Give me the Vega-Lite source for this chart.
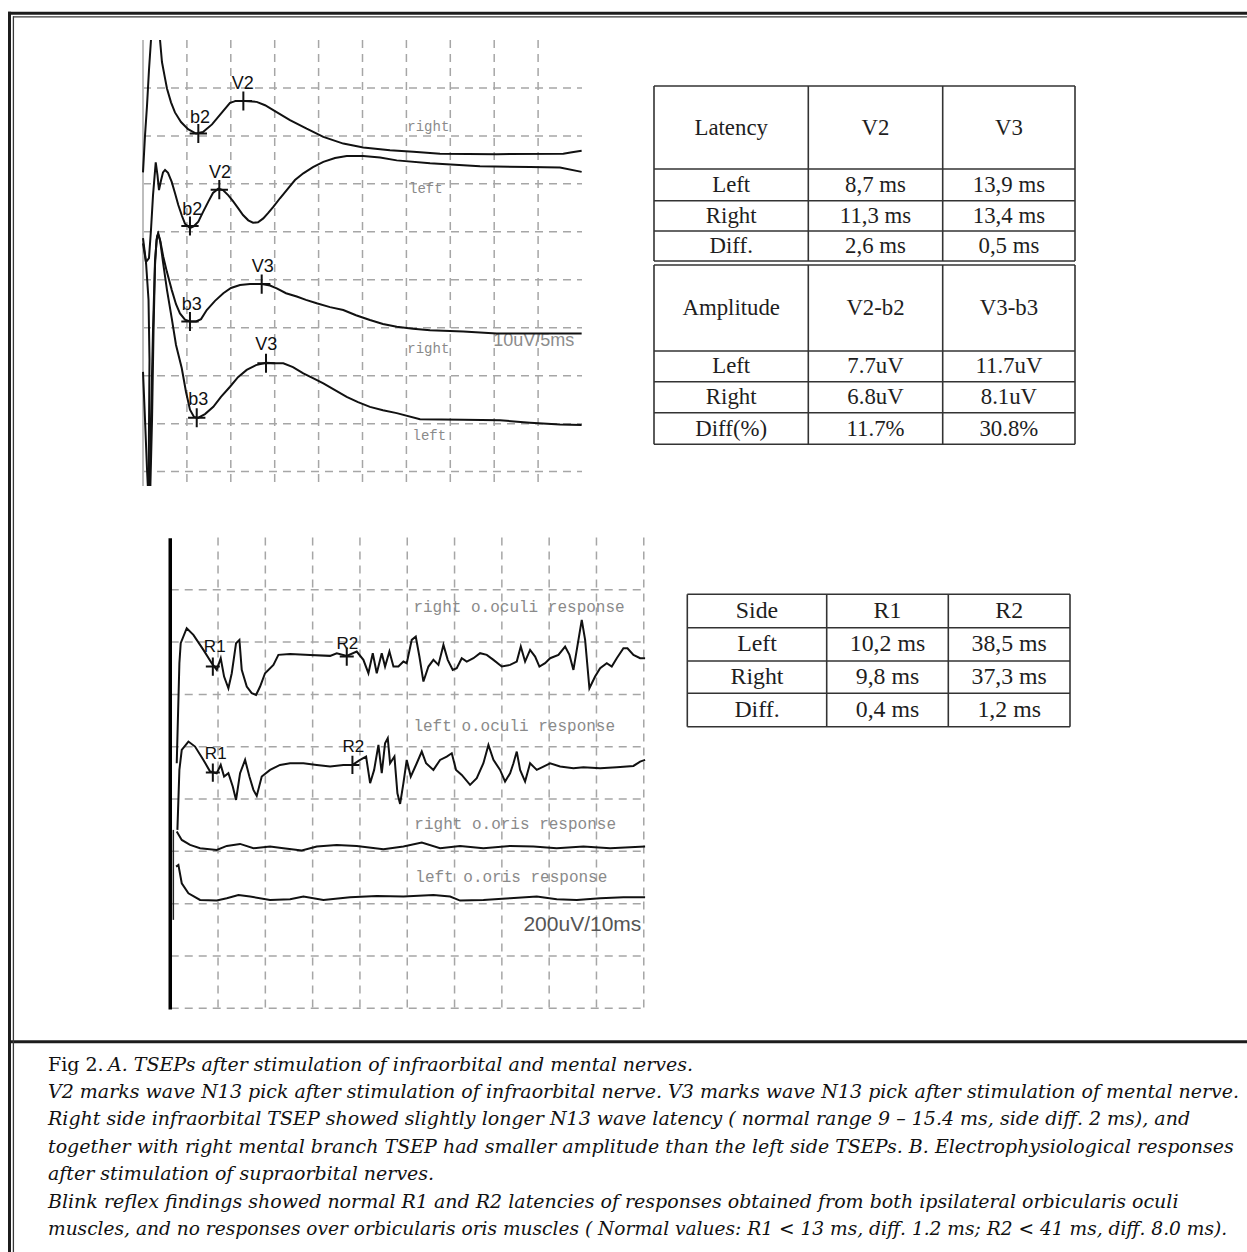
{
"$schema": "https://vega.github.io/schema/vega-lite/v6.json",
"width": 1247, "height": 1252, "autosize": {"type": "none"}, "padding": 0,
"background": "#ffffff",
"config": {"view": {"stroke": null}},
"datasets": {
"tsep": [
{"s":"A1u","t":0,"v":62.4},{"s":"A1u","t":0.23,"v":70.1},{"s":"A1u","t":0.46,"v":76.4},{"s":"A1u","t":0.68,"v":83.7},{"s":"A1u","t":0.91,"v":90},
{"s":"A1","t":1.94,"v":90},{"s":"A1","t":2.16,"v":85.4},{"s":"A1","t":2.51,"v":82.0},{"s":"A1","t":2.73,"v":79.9},{"s":"A1","t":3.19,"v":77.0},{"s":"A1","t":3.64,"v":74.9},{"s":"A1","t":4.33,"v":72.9},{"s":"A1","t":5.13,"v":71.4},{"s":"A1","t":6.04,"v":70.5},{"s":"A1","t":6.83,"v":70.8},{"s":"A1","t":7.86,"v":72.4},{"s":"A1","t":9.0,"v":74.9},{"s":"A1","t":9.91,"v":76.9},{"s":"A1","t":10.59,"v":77.3},{"s":"A1","t":11.62,"v":77.3},{"s":"A1","t":12.95,"v":77.1},{"s":"A1","t":13.9,"v":76.4},{"s":"A1","t":14.84,"v":75.4},{"s":"A1","t":16.74,"v":73.3},{"s":"A1","t":18.64,"v":71.5},{"s":"A1","t":20.54,"v":69.8},{"s":"A1","t":22.81,"v":68.4},{"s":"A1","t":25.09,"v":67.6},{"s":"A1","t":28.13,"v":67.0},{"s":"A1","t":30.79,"v":66.7},{"s":"A1","t":33.83,"v":66.3},{"s":"A1","t":40.28,"v":66.2},{"s":"A1","t":47.87,"v":66.3},{"s":"A1","t":48.86,"v":66.6},{"s":"A1","t":49.96,"v":66.9},
{"s":"A2","t":0,"v":47.6},{"s":"A2","t":0.34,"v":43.7},{"s":"A2","t":0.68,"v":44.5},{"s":"A2","t":0.91,"v":50.4},{"s":"A2","t":1.14,"v":57.6},{"s":"A2","t":1.45,"v":64.5},{"s":"A2","t":1.65,"v":61.8},{"s":"A2","t":1.82,"v":58.7},{"s":"A2","t":2.05,"v":60.7},{"s":"A2","t":2.28,"v":62.4},{"s":"A2","t":2.51,"v":62.9},{"s":"A2","t":2.85,"v":62.3},{"s":"A2","t":3.27,"v":60.4},{"s":"A2","t":3.64,"v":58.1},{"s":"A2","t":4.02,"v":55.6},{"s":"A2","t":4.44,"v":53.3},{"s":"A2","t":4.78,"v":51.7},{"s":"A2","t":5.35,"v":50.8},{"s":"A2","t":5.81,"v":51.2},{"s":"A2","t":6.3,"v":52.1},{"s":"A2","t":6.83,"v":54.1},{"s":"A2","t":7.44,"v":56.3},{"s":"A2","t":7.97,"v":58.1},{"s":"A2","t":8.58,"v":59.0},{"s":"A2","t":9.11,"v":58.7},{"s":"A2","t":9.72,"v":57.6},{"s":"A2","t":10.25,"v":56.4},{"s":"A2","t":10.85,"v":54.9},{"s":"A2","t":11.39,"v":53.5},{"s":"A2","t":11.99,"v":52.4},{"s":"A2","t":12.53,"v":51.9},{"s":"A2","t":13.1,"v":52.0},{"s":"A2","t":13.7,"v":52.8},{"s":"A2","t":14.24,"v":53.9},{"s":"A2","t":14.84,"v":55.2},{"s":"A2","t":15.6,"v":57.0},{"s":"A2","t":16.37,"v":58.7},{"s":"A2","t":17.31,"v":60.8},{"s":"A2","t":18.26,"v":62.2},{"s":"A2","t":19.36,"v":63.5},{"s":"A2","t":20.54,"v":64.6},{"s":"A2","t":21.87,"v":65.4},{"s":"A2","t":23.2,"v":65.8},{"s":"A2","t":25.09,"v":65.8},{"s":"A2","t":27.0,"v":65.5},{"s":"A2","t":28.9,"v":64.9},{"s":"A2","t":32.69,"v":64.3},{"s":"A2","t":38.38,"v":63.7},{"s":"A2","t":44.08,"v":63.5},{"s":"A2","t":47.49,"v":63.4},{"s":"A2","t":49.96,"v":62.5},
{"s":"A3d","t":0,"v":20.8},{"s":"A3d","t":0.23,"v":10.8},{"s":"A3d","t":0.46,"v":0.4},{"s":"A3d","t":0.55,"v":-3},
{"s":"A3","t":0.76,"v":-3},{"s":"A3","t":0.91,"v":10.8},{"s":"A3","t":1.14,"v":29.5},{"s":"A3","t":1.37,"v":44.1},{"s":"A3","t":1.6,"v":49.1},{"s":"A3","t":1.74,"v":49.7},{"s":"A3","t":1.99,"v":47.9},{"s":"A3","t":2.31,"v":44.8},{"s":"A3","t":2.73,"v":41.6},{"s":"A3","t":3.27,"v":37.9},{"s":"A3","t":3.76,"v":34.9},{"s":"A3","t":4.21,"v":33.0},{"s":"A3","t":4.78,"v":31.7},{"s":"A3","t":5.35,"v":31.3},{"s":"A3","t":6.04,"v":31.3},{"s":"A3","t":6.61,"v":31.8},{"s":"A3","t":7.26,"v":33.7},{"s":"A3","t":8.2,"v":35.6},{"s":"A3","t":9.15,"v":37.2},{"s":"A3","t":10.02,"v":38.3},{"s":"A3","t":11.05,"v":38.9},{"s":"A3","t":12.19,"v":39.1},{"s":"A3","t":13.52,"v":39.1},{"s":"A3","t":14.46,"v":38.8},{"s":"A3","t":15.23,"v":38.2},{"s":"A3","t":16.29,"v":37.2},{"s":"A3","t":17.51,"v":36.5},{"s":"A3","t":18.56,"v":35.8},{"s":"A3","t":19.78,"v":35.1},{"s":"A3","t":21.3,"v":34.3},{"s":"A3","t":22.81,"v":33.7},{"s":"A3","t":24.26,"v":32.6},{"s":"A3","t":25.85,"v":31.6},{"s":"A3","t":27.33,"v":30.8},{"s":"A3","t":28.9,"v":30.2},{"s":"A3","t":30.75,"v":29.8},{"s":"A3","t":32.69,"v":29.5},{"s":"A3","t":36.48,"v":29.2},{"s":"A3","t":40.28,"v":28.8},{"s":"A3","t":45.22,"v":28.8},{"s":"A3","t":49.96,"v":28.8},
{"s":"A4d","t":0,"v":48.7},{"s":"A4d","t":0.34,"v":43.7},{"s":"A4d","t":0.63,"v":35.8},{"s":"A4d","t":0.74,"v":23.3},{"s":"A4d","t":0.68,"v":8.7},{"s":"A4d","t":0.64,"v":-3},
{"s":"A4","t":0.84,"v":-3},{"s":"A4","t":1.03,"v":10.8},{"s":"A4","t":1.2,"v":29.5},{"s":"A4","t":1.37,"v":43.1},{"s":"A4","t":1.54,"v":48.3},{"s":"A4","t":1.71,"v":49.5},{"s":"A4","t":1.94,"v":48.3},{"s":"A4","t":2.28,"v":43.7},{"s":"A4","t":2.73,"v":37.9},{"s":"A4","t":3.27,"v":32.0},{"s":"A4","t":3.76,"v":26.4},{"s":"A4","t":4.41,"v":21.6},{"s":"A4","t":4.9,"v":16.6},{"s":"A4","t":5.35,"v":12.9},{"s":"A4","t":5.81,"v":11.4},{"s":"A4","t":6.26,"v":11.2},{"s":"A4","t":7.06,"v":12.0},{"s":"A4","t":8.01,"v":13.5},{"s":"A4","t":8.88,"v":15.6},{"s":"A4","t":9.91,"v":17.7},{"s":"A4","t":10.82,"v":19.7},{"s":"A4","t":11.81,"v":21.2},{"s":"A4","t":12.87,"v":22.2},{"s":"A4","t":14.01,"v":22.7},{"s":"A4","t":15.03,"v":22.6},{"s":"A4","t":15.98,"v":22.6},{"s":"A4","t":17.08,"v":21.8},{"s":"A4","t":18.26,"v":20.5},{"s":"A4","t":19.36,"v":19.5},{"s":"A4","t":20.54,"v":18.4},{"s":"A4","t":21.87,"v":17.0},{"s":"A4","t":23.2,"v":15.6},{"s":"A4","t":24.49,"v":14.5},{"s":"A4","t":25.85,"v":13.5},{"s":"A4","t":27.33,"v":12.8},{"s":"A4","t":28.9,"v":12.2},{"s":"A4","t":31.55,"v":10.9},{"s":"A4","t":36.48,"v":10.8},{"s":"A4","t":40.66,"v":10.7},{"s":"A4","t":44.08,"v":10.2},{"s":"A4","t":47.49,"v":9.8},{"s":"A4","t":49.96,"v":9.7}
],
"blink": [
{"s":"Roc","t":1.27,"v":936.9},{"s":"Roc","t":1.83,"v":1319.3},{"s":"Roc","t":2.11,"v":1395.8},{"s":"Roc","t":3.38,"v":1453.2},{"s":"Roc","t":4.79,"v":1427.7},{"s":"Roc","t":6.91,"v":1370.3},{"s":"Roc","t":8.67,"v":1319.3},{"s":"Roc","t":9.73,"v":1293.8},{"s":"Roc","t":10.57,"v":1338.4},{"s":"Roc","t":11.28,"v":1268.3},{"s":"Roc","t":12.19,"v":1223.7},{"s":"Roc","t":12.9,"v":1281.1},{"s":"Roc","t":13.81,"v":1395.8},{"s":"Roc","t":14.52,"v":1408.5},{"s":"Roc","t":15.01,"v":1293.8},{"s":"Roc","t":16.07,"v":1230.1},{"s":"Roc","t":17.12,"v":1204.6},{"s":"Roc","t":18.04,"v":1198.2},{"s":"Roc","t":18.89,"v":1230.1},{"s":"Roc","t":19.94,"v":1281.1},{"s":"Roc","t":21.71,"v":1313.0},{"s":"Roc","t":22.76,"v":1351.2},{"s":"Roc","t":25.23,"v":1355.0},{"s":"Roc","t":29.46,"v":1351.2},{"s":"Roc","t":33.69,"v":1347.4},{"s":"Roc","t":35.1,"v":1357.6},{"s":"Roc","t":37.21,"v":1347.4},{"s":"Roc","t":39.32,"v":1364.0},{"s":"Roc","t":40.73,"v":1332.1},{"s":"Roc","t":41.79,"v":1281.1},{"s":"Roc","t":42.71,"v":1357.6},{"s":"Roc","t":43.55,"v":1281.1},{"s":"Roc","t":44.61,"v":1357.6},{"s":"Roc","t":45.31,"v":1306.6},{"s":"Roc","t":46.23,"v":1364.0},{"s":"Roc","t":47.08,"v":1306.6},{"s":"Roc","t":48.13,"v":1306.6},{"s":"Roc","t":49.19,"v":1325.7},{"s":"Roc","t":49.89,"v":1319.3},{"s":"Roc","t":50.95,"v":1408.5},{"s":"Roc","t":51.8,"v":1421.3},{"s":"Roc","t":52.57,"v":1344.8},{"s":"Roc","t":53.42,"v":1249.2},{"s":"Roc","t":54.48,"v":1306.6},{"s":"Roc","t":55.53,"v":1332.1},{"s":"Roc","t":56.59,"v":1313.0},{"s":"Roc","t":57.65,"v":1389.4},{"s":"Roc","t":58.56,"v":1332.1},{"s":"Roc","t":59.62,"v":1293.8},{"s":"Roc","t":60.46,"v":1300.2},{"s":"Roc","t":61.52,"v":1338.4},{"s":"Roc","t":62.58,"v":1325.7},{"s":"Roc","t":63.99,"v":1338.4},{"s":"Roc","t":65.4,"v":1357.6},{"s":"Roc","t":66.81,"v":1351.2},{"s":"Roc","t":68.22,"v":1332.1},{"s":"Roc","t":69.98,"v":1306.6},{"s":"Roc","t":71.74,"v":1313.0},{"s":"Roc","t":73.15,"v":1325.7},{"s":"Roc","t":74.0,"v":1383.1},{"s":"Roc","t":74.91,"v":1325.7},{"s":"Roc","t":75.97,"v":1370.3},{"s":"Roc","t":77.03,"v":1344.8},{"s":"Roc","t":77.94,"v":1306.6},{"s":"Roc","t":79.14,"v":1319.3},{"s":"Roc","t":80.2,"v":1338.4},{"s":"Roc","t":81.96,"v":1351.2},{"s":"Roc","t":83.37,"v":1383.1},{"s":"Roc","t":84.29,"v":1351.2},{"s":"Roc","t":85.13,"v":1293.8},{"s":"Roc","t":86.19,"v":1408.5},{"s":"Roc","t":86.89,"v":1485.0},{"s":"Roc","t":87.6,"v":1408.5},{"s":"Roc","t":88.51,"v":1223.7},{"s":"Roc","t":89.71,"v":1268.3},{"s":"Roc","t":90.77,"v":1300.2},{"s":"Roc","t":92.18,"v":1319.3},{"s":"Roc","t":93.23,"v":1306.6},{"s":"Roc","t":94.29,"v":1338.4},{"s":"Roc","t":95.7,"v":1376.7},{"s":"Roc","t":96.55,"v":1376.7},{"s":"Roc","t":97.82,"v":1351.2},{"s":"Roc","t":99.23,"v":1338.4},{"s":"Roc","t":100.28,"v":1338.4},
{"s":"Loc","t":1.41,"v":682.0},{"s":"Loc","t":1.83,"v":911.4},{"s":"Loc","t":2.33,"v":987.9},{"s":"Loc","t":3.74,"v":1019.8},{"s":"Loc","t":5.14,"v":1000.6},{"s":"Loc","t":6.91,"v":949.6},{"s":"Loc","t":8.32,"v":905.0},{"s":"Loc","t":9.73,"v":898.7},{"s":"Loc","t":10.57,"v":930.5},{"s":"Loc","t":11.28,"v":885.9},{"s":"Loc","t":12.19,"v":898.7},{"s":"Loc","t":13.11,"v":847.7},{"s":"Loc","t":13.81,"v":796.7},{"s":"Loc","t":14.66,"v":898.7},{"s":"Loc","t":15.72,"v":949.6},{"s":"Loc","t":16.63,"v":885.9},{"s":"Loc","t":17.48,"v":834.9},{"s":"Loc","t":18.18,"v":812.0},{"s":"Loc","t":19.24,"v":885.9},{"s":"Loc","t":21.0,"v":911.4},{"s":"Loc","t":23.11,"v":930.5},{"s":"Loc","t":25.23,"v":936.9},{"s":"Loc","t":28.05,"v":936.9},{"s":"Loc","t":30.87,"v":930.5},{"s":"Loc","t":33.69,"v":924.2},{"s":"Loc","t":36.5,"v":930.5},{"s":"Loc","t":38.41,"v":930.5},{"s":"Loc","t":40.03,"v":949.6},{"s":"Loc","t":41.3,"v":962.4},{"s":"Loc","t":42.15,"v":860.5},{"s":"Loc","t":43.0,"v":911.4},{"s":"Loc","t":43.91,"v":1007.0},{"s":"Loc","t":44.61,"v":898.7},{"s":"Loc","t":45.31,"v":1013.4},{"s":"Loc","t":45.88,"v":1032.5},{"s":"Loc","t":46.37,"v":936.9},{"s":"Loc","t":47.29,"v":962.4},{"s":"Loc","t":47.92,"v":822.2},{"s":"Loc","t":48.49,"v":781.4},{"s":"Loc","t":49.19,"v":860.5},{"s":"Loc","t":49.89,"v":949.6},{"s":"Loc","t":50.74,"v":885.9},{"s":"Loc","t":52.01,"v":936.9},{"s":"Loc","t":53.07,"v":981.5},{"s":"Loc","t":53.98,"v":936.9},{"s":"Loc","t":55.53,"v":911.4},{"s":"Loc","t":56.94,"v":949.6},{"s":"Loc","t":58.35,"v":962.4},{"s":"Loc","t":59.41,"v":975.1},{"s":"Loc","t":60.32,"v":911.4},{"s":"Loc","t":61.52,"v":892.3},{"s":"Loc","t":63.28,"v":854.1},{"s":"Loc","t":64.69,"v":879.6},{"s":"Loc","t":66.1,"v":936.9},{"s":"Loc","t":67.16,"v":1007.0},{"s":"Loc","t":68.22,"v":949.6},{"s":"Loc","t":69.63,"v":911.4},{"s":"Loc","t":70.68,"v":866.8},{"s":"Loc","t":71.74,"v":898.7},{"s":"Loc","t":72.45,"v":936.9},{"s":"Loc","t":73.15,"v":981.5},{"s":"Loc","t":73.86,"v":911.4},{"s":"Loc","t":74.91,"v":866.8},{"s":"Loc","t":75.97,"v":936.9},{"s":"Loc","t":77.38,"v":911.4},{"s":"Loc","t":78.79,"v":924.2},{"s":"Loc","t":80.2,"v":936.9},{"s":"Loc","t":82.31,"v":924.2},{"s":"Loc","t":85.13,"v":917.8},{"s":"Loc","t":87.24,"v":921.6},{"s":"Loc","t":90.77,"v":917.8},{"s":"Loc","t":94.29,"v":921.6},{"s":"Loc","t":97.82,"v":926.7},{"s":"Loc","t":99.23,"v":943.3},{"s":"Loc","t":100.28,"v":949.6},
{"s":"Ror","t":1.27,"v":675.6},{"s":"Ror","t":2.33,"v":643.7},{"s":"Ror","t":4.09,"v":624.6},{"s":"Ror","t":6.2,"v":611.9},{"s":"Ror","t":9.73,"v":605.5},{"s":"Ror","t":11.85,"v":620.8},{"s":"Ror","t":14.66,"v":628.4},{"s":"Ror","t":17.48,"v":611.9},{"s":"Ror","t":21.0,"v":618.2},{"s":"Ror","t":23.82,"v":611.9},{"s":"Ror","t":27.7,"v":602.9},{"s":"Ror","t":30.87,"v":618.2},{"s":"Ror","t":35.1,"v":624.6},{"s":"Ror","t":39.32,"v":620.8},{"s":"Ror","t":44.96,"v":608.0},{"s":"Ror","t":49.19,"v":618.2},{"s":"Ror","t":53.07,"v":633.5},{"s":"Ror","t":56.94,"v":611.9},{"s":"Ror","t":61.17,"v":620.8},{"s":"Ror","t":66.1,"v":611.9},{"s":"Ror","t":71.74,"v":620.8},{"s":"Ror","t":76.67,"v":618.2},{"s":"Ror","t":81.6,"v":611.9},{"s":"Ror","t":87.24,"v":618.2},{"s":"Ror","t":92.88,"v":611.9},{"s":"Ror","t":100.28,"v":618.2},
{"s":"Lor","t":1.13,"v":541.8},{"s":"Lor","t":1.62,"v":548.1},{"s":"Lor","t":2.33,"v":478.0},{"s":"Lor","t":3.74,"v":439.8},{"s":"Lor","t":6.2,"v":414.3},{"s":"Lor","t":9.73,"v":411.7},{"s":"Lor","t":11.85,"v":420.7},{"s":"Lor","t":14.31,"v":433.4},{"s":"Lor","t":16.77,"v":427.0},{"s":"Lor","t":21.0,"v":414.3},{"s":"Lor","t":25.23,"v":416.8},{"s":"Lor","t":28.05,"v":427.0},{"s":"Lor","t":32.28,"v":414.3},{"s":"Lor","t":37.91,"v":424.5},{"s":"Lor","t":43.55,"v":429.6},{"s":"Lor","t":49.19,"v":427.0},{"s":"Lor","t":55.53,"v":433.4},{"s":"Lor","t":59.06,"v":427.0},{"s":"Lor","t":61.17,"v":411.7},{"s":"Lor","t":66.1,"v":414.3},{"s":"Lor","t":71.74,"v":420.7},{"s":"Lor","t":77.38,"v":427.0},{"s":"Lor","t":81.6,"v":416.8},{"s":"Lor","t":85.84,"v":414.3},{"s":"Lor","t":90.77,"v":420.7},{"s":"Lor","t":95.7,"v":424.5},{"s":"Lor","t":100.28,"v":424.5}
]
},
"resolve": {"scale": {"x": "independent", "y": "independent"}},
"layer": [
{
"data": {"values": [
{"kind":"outer","x1":8,"x2":1247,"y1":13.3,"y2":13.3},
{"kind":"outer","x1":9.5,"x2":9.5,"y1":11.8,"y2":1252},
{"kind":"outer","x1":8,"x2":1247,"y1":1041.8,"y2":1041.8},
{"kind":"inner","x1":13,"x2":1247,"y1":16.8,"y2":16.8},
{"kind":"inner","x1":13.4,"x2":13.4,"y1":16.2,"y2":1252}
]},
"layer": [
{"transform": [{"filter": "datum.kind === 'outer'"}],
 "mark": {"type": "rule", "color": "#1c1c1c", "strokeWidth": 3},
 "encoding": {
  "x": {"field": "x1", "type": "quantitative", "scale": {"domain": [0,1247], "range": [0,1247], "nice": false, "zero": false}, "axis": null},
  "x2": {"field": "x2"},
  "y": {"field": "y1", "type": "quantitative", "scale": {"domain": [0,1252], "range": [0,1252], "nice": false, "zero": false}, "axis": null},
  "y2": {"field": "y2"}}},
{"transform": [{"filter": "datum.kind === 'inner'"}],
 "mark": {"type": "rule", "color": "#3a3a3a", "strokeWidth": 1.3},
 "encoding": {
  "x": {"field": "x1", "type": "quantitative", "scale": {"domain": [0,1247], "range": [0,1247], "nice": false, "zero": false}, "axis": null},
  "x2": {"field": "x2"},
  "y": {"field": "y1", "type": "quantitative", "scale": {"domain": [0,1252], "range": [0,1252], "nice": false, "zero": false}, "axis": null},
  "y2": {"field": "y2"}}}
]
},
{
"layer": [
{"data": {"values": [{"t":5},{"t":10},{"t":15},{"t":20},{"t":25},{"t":30},{"t":35},{"t":40},{"t":45}]},
 "mark": {"type": "rule", "color": "#a6a6a6", "strokeWidth": 1.5, "strokeDash": [8,6]},
 "encoding": {
  "x": {"field": "t", "type": "quantitative", "scale": {"domain": [0,50], "range": [143,582], "nice": false, "zero": false}, "axis": null},
  "y": {"datum": 90, "type": "quantitative", "scale": {"domain": [-3,90], "range": [486,40], "nice": false, "zero": false}, "axis": null},
  "y2": {"datum": -3}}},
{"data": {"values": [{"v":0},{"v":10},{"v":20},{"v":30},{"v":40},{"v":50},{"v":60},{"v":70},{"v":80}]},
 "mark": {"type": "rule", "color": "#a6a6a6", "strokeWidth": 1.5, "strokeDash": [8,6]},
 "encoding": {
  "y": {"field": "v", "type": "quantitative", "scale": {"domain": [-3,90], "range": [486,40], "nice": false, "zero": false}, "axis": null},
  "x": {"datum": 0, "type": "quantitative", "scale": {"domain": [0,50], "range": [143,582], "nice": false, "zero": false}, "axis": null},
  "x2": {"datum": 50}}},
{"data": {"values": [{"t":0}]},
 "mark": {"type": "rule", "color": "#bdbdbd", "strokeWidth": 2},
 "encoding": {
  "x": {"field": "t", "type": "quantitative", "scale": {"domain": [0,50], "range": [143,582], "nice": false, "zero": false}, "axis": null},
  "y": {"datum": 90, "type": "quantitative", "scale": {"domain": [-3,90], "range": [486,40], "nice": false, "zero": false}, "axis": null},
  "y2": {"datum": -3}}},
{"data": {"values": [{"t":39.9,"v":27.2,"label":"10uV/5ms"}]},
 "mark": {"type": "text", "font": "Liberation Sans", "fontSize": 18, "color": "#8c8c8c", "align": "left", "baseline": "middle"},
 "encoding": {
  "x": {"field": "t", "type": "quantitative", "scale": {"domain": [0,50], "range": [143,582], "nice": false, "zero": false}, "axis": null},
  "y": {"field": "v", "type": "quantitative", "scale": {"domain": [-3,90], "range": [486,40], "nice": false, "zero": false}, "axis": null},
  "text": {"field": "label"}}},
{"data": {"values": [{"t":30.1,"v":71.9,"label":"right"},{"t":30.3,"v":59.0,"label":"left"},{"t":30.1,"v":25.5,"label":"right"},{"t":30.7,"v":7.4,"label":"left"}]},
 "mark": {"type": "text", "font": "Liberation Mono", "fontSize": 14, "color": "#8a8a8a", "align": "left", "baseline": "middle"},
 "encoding": {
  "x": {"field": "t", "type": "quantitative", "scale": {"domain": [0,50], "range": [143,582], "nice": false, "zero": false}, "axis": null},
  "y": {"field": "v", "type": "quantitative", "scale": {"domain": [-3,90], "range": [486,40], "nice": false, "zero": false}, "axis": null},
  "text": {"field": "label"}}},
{"data": {"name": "tsep"},
 "mark": {"type": "line", "color": "#111111", "strokeWidth": 2},
 "encoding": {
  "x": {"field": "t", "type": "quantitative", "scale": {"domain": [0,50], "range": [143,582], "nice": false, "zero": false}, "axis": null},
  "y": {"field": "v", "type": "quantitative", "scale": {"domain": [-3,90], "range": [486,40], "nice": false, "zero": false}, "axis": null},
  "detail": {"field": "s"},
  "order": {"value": null}}},
{"data": {"values": [{"t":6.3,"v":70.5},{"t":11.43,"v":77.3},{"t":5.35,"v":51.2},{"t":8.69,"v":58.8},{"t":5.35,"v":31.3},{"t":13.52,"v":39.1},{"t":6.12,"v":11.25},{"t":14.01,"v":22.6}]},
 "mark": {"type": "point", "shape": "M-1,0L1,0M0,-1.1L0,1.1", "size": 300, "filled": false, "color": "#111111", "strokeWidth": 2, "opacity": 1},
 "encoding": {
  "x": {"field": "t", "type": "quantitative", "scale": {"domain": [0,50], "range": [143,582], "nice": false, "zero": false}, "axis": null},
  "y": {"field": "v", "type": "quantitative", "scale": {"domain": [-3,90], "range": [486,40], "nice": false, "zero": false}, "axis": null}}},
{"data": {"values": [{"t":6.49,"v":73.8,"label":"b2"},{"t":11.35,"v":80.9,"label":"V2"},{"t":5.62,"v":54.5,"label":"b2"},{"t":8.77,"v":62.2,"label":"V2"},{"t":5.54,"v":34.7,"label":"b3"},{"t":13.63,"v":42.7,"label":"V3"},{"t":6.3,"v":14.9,"label":"b3"},{"t":14.05,"v":26.4,"label":"V3"}]},
 "mark": {"type": "text", "font": "Liberation Sans", "fontSize": 18, "color": "#111111", "align": "center", "baseline": "middle"},
 "encoding": {
  "x": {"field": "t", "type": "quantitative", "scale": {"domain": [0,50], "range": [143,582], "nice": false, "zero": false}, "axis": null},
  "y": {"field": "v", "type": "quantitative", "scale": {"domain": [-3,90], "range": [486,40], "nice": false, "zero": false}, "axis": null},
  "text": {"field": "label"}}}
]
},
{
"layer": [
{"data": {"values": [{"rb":0},{"rb":1},{"rb":2},{"rb":3},{"rb":4},{"rb":5},{"rb":6},{"rb":7},{"rb":8},{"rb":9}]},
 "mark": {"type": "rule", "color": "#333333", "strokeWidth": 1.6},
 "encoding": {
  "y": {"field": "rb", "type": "quantitative", "scale": {"domain": [0,1,2,3,4,5,6,7,8,9], "range": [86,169,200.7,231,261,265,351,381.7,412.7,444.3], "nice": false, "zero": false}, "axis": null},
  "x": {"datum": 0, "type": "quantitative", "scale": {"domain": [0,1,2,3], "range": [654,808.3,942.7,1075], "nice": false, "zero": false}, "axis": null},
  "x2": {"datum": 3}}},
{"data": {"values": [{"cb":0,"r0":0,"r1":4},{"cb":1,"r0":0,"r1":4},{"cb":2,"r0":0,"r1":4},{"cb":3,"r0":0,"r1":4},{"cb":0,"r0":5,"r1":9},{"cb":1,"r0":5,"r1":9},{"cb":2,"r0":5,"r1":9},{"cb":3,"r0":5,"r1":9}]},
 "mark": {"type": "rule", "color": "#333333", "strokeWidth": 1.6},
 "encoding": {
  "x": {"field": "cb", "type": "quantitative", "scale": {"domain": [0,1,2,3], "range": [654,808.3,942.7,1075], "nice": false, "zero": false}, "axis": null},
  "y": {"field": "r0", "type": "quantitative", "scale": {"domain": [0,1,2,3,4,5,6,7,8,9], "range": [86,169,200.7,231,261,265,351,381.7,412.7,444.3], "nice": false, "zero": false}, "axis": null},
  "y2": {"field": "r1"}}}
]
},
{
"data": {"values": [
{"r":0,"c":0,"text":"Latency"},{"r":0,"c":1,"text":"V2"},{"r":0,"c":2,"text":"V3"},
{"r":1,"c":0,"text":"Left"},{"r":1,"c":1,"text":"8,7 ms"},{"r":1,"c":2,"text":"13,9 ms"},
{"r":2,"c":0,"text":"Right"},{"r":2,"c":1,"text":"11,3 ms"},{"r":2,"c":2,"text":"13,4 ms"},
{"r":3,"c":0,"text":"Diff."},{"r":3,"c":1,"text":"2,6 ms"},{"r":3,"c":2,"text":"0,5 ms"},
{"r":4,"c":0,"text":"Amplitude"},{"r":4,"c":1,"text":"V2-b2"},{"r":4,"c":2,"text":"V3-b3"},
{"r":5,"c":0,"text":"Left"},{"r":5,"c":1,"text":"7.7uV"},{"r":5,"c":2,"text":"11.7uV"},
{"r":6,"c":0,"text":"Right"},{"r":6,"c":1,"text":"6.8uV"},{"r":6,"c":2,"text":"8.1uV"},
{"r":7,"c":0,"text":"Diff(%)"},{"r":7,"c":1,"text":"11.7%"},{"r":7,"c":2,"text":"30.8%"}
]},
"mark": {"type": "text", "font": "Liberation Serif", "fontSize": 22.8, "color": "#1e1e1e", "align": "center", "baseline": "middle"},
"encoding": {
 "x": {"field": "c", "type": "quantitative", "scale": {"domain": [0,1,2], "range": [731.2,875.5,1008.9], "nice": false, "zero": false}, "axis": null},
 "y": {"field": "r", "type": "quantitative", "scale": {"domain": [0,1,2,3,4,5,6,7], "range": [127.5,184.9,215.9,246,308,366.4,397.2,428.5], "nice": false, "zero": false}, "axis": null},
 "text": {"field": "text"}}
},
{
"layer": [
{"data": {"values": [{"t":10},{"t":20},{"t":30},{"t":40},{"t":50},{"t":60},{"t":70},{"t":80},{"t":90},{"t":100}]},
 "mark": {"type": "rule", "color": "#a6a6a6", "strokeWidth": 1.5, "strokeDash": [8,6]},
 "encoding": {
  "x": {"field": "t", "type": "quantitative", "scale": {"domain": [-1,101], "range": [166,648.5], "nice": false, "zero": false}, "axis": null},
  "y": {"datum": 1800, "type": "quantitative", "scale": {"domain": [-20,1800], "range": [1013.5,537.5], "nice": false, "zero": false}, "axis": null},
  "y2": {"datum": -6}}},
{"data": {"values": [{"v":0},{"v":200},{"v":400},{"v":600},{"v":800},{"v":1000},{"v":1200},{"v":1400},{"v":1600}]},
 "mark": {"type": "rule", "color": "#a6a6a6", "strokeWidth": 1.5, "strokeDash": [8,6]},
 "encoding": {
  "y": {"field": "v", "type": "quantitative", "scale": {"domain": [-20,1800], "range": [1013.5,537.5], "nice": false, "zero": false}, "axis": null},
  "x": {"datum": 0, "type": "quantitative", "scale": {"domain": [-1,101], "range": [166,648.5], "nice": false, "zero": false}, "axis": null},
  "x2": {"datum": 100.6}}},
{"data": {"values": [{"t":-0.1}]},
 "mark": {"type": "rule", "color": "#000000", "strokeWidth": 3.5},
 "encoding": {
  "x": {"field": "t", "type": "quantitative", "scale": {"domain": [-1,101], "range": [166,648.5], "nice": false, "zero": false}, "axis": null},
  "y": {"datum": 1797, "type": "quantitative", "scale": {"domain": [-20,1800], "range": [1013.5,537.5], "nice": false, "zero": false}, "axis": null},
  "y2": {"datum": -5}}},
{"data": {"values": [{"t":0.55}]},
 "mark": {"type": "rule", "color": "#222222", "strokeWidth": 1.5},
 "encoding": {
  "x": {"field": "t", "type": "quantitative", "scale": {"domain": [-1,101], "range": [166,648.5], "nice": false, "zero": false}, "axis": null},
  "y": {"datum": 682, "type": "quantitative", "scale": {"domain": [-20,1800], "range": [1013.5,537.5], "nice": false, "zero": false}, "axis": null},
  "y2": {"datum": 338}}},
{"data": {"values": [{"t":74.56,"v":318.7,"label":"200uV/10ms"}]},
 "mark": {"type": "text", "font": "Liberation Sans", "fontSize": 21, "color": "#555555", "align": "left", "baseline": "middle"},
 "encoding": {
  "x": {"field": "t", "type": "quantitative", "scale": {"domain": [-1,101], "range": [166,648.5], "nice": false, "zero": false}, "axis": null},
  "y": {"field": "v", "type": "quantitative", "scale": {"domain": [-20,1800], "range": [1013.5,537.5], "nice": false, "zero": false}, "axis": null},
  "text": {"field": "label"}}},
{"data": {"values": [{"t":51.3,"v":1533.5,"label":"right o.oculi response"},{"t":51.3,"v":1081,"label":"left o.oculi response"},{"t":51.5,"v":705,"label":"right o.oris response"},{"t":51.7,"v":501,"label":"left o.oris response"}]},
 "mark": {"type": "text", "font": "Liberation Mono", "fontSize": 16, "color": "#8a8a8a", "align": "left", "baseline": "middle"},
 "encoding": {
  "x": {"field": "t", "type": "quantitative", "scale": {"domain": [-1,101], "range": [166,648.5], "nice": false, "zero": false}, "axis": null},
  "y": {"field": "v", "type": "quantitative", "scale": {"domain": [-20,1800], "range": [1013.5,537.5], "nice": false, "zero": false}, "axis": null},
  "text": {"field": "label"}}},
{"data": {"name": "blink"},
 "mark": {"type": "line", "color": "#111111", "strokeWidth": 2},
 "encoding": {
  "x": {"field": "t", "type": "quantitative", "scale": {"domain": [-1,101], "range": [166,648.5], "nice": false, "zero": false}, "axis": null},
  "y": {"field": "v", "type": "quantitative", "scale": {"domain": [-20,1800], "range": [1013.5,537.5], "nice": false, "zero": false}, "axis": null},
  "detail": {"field": "s"},
  "order": {"value": null}}},
{"data": {"values": [{"t":8.9,"v":1306.6},{"t":37.21,"v":1344.8},{"t":8.9,"v":901.2},{"t":38.41,"v":930.5}]},
 "mark": {"type": "point", "shape": "M-1,0L1,0M0,-1.3L0,1.3", "size": 196, "filled": false, "color": "#111111", "strokeWidth": 2, "opacity": 1},
 "encoding": {
  "x": {"field": "t", "type": "quantitative", "scale": {"domain": [-1,101], "range": [166,648.5], "nice": false, "zero": false}, "axis": null},
  "y": {"field": "v", "type": "quantitative", "scale": {"domain": [-20,1800], "range": [1013.5,537.5], "nice": false, "zero": false}, "axis": null}}},
{"data": {"values": [{"t":9.3,"v":1380.5,"label":"R1"},{"t":37.35,"v":1393.3,"label":"R2"},{"t":9.51,"v":972.6,"label":"R1"},{"t":38.62,"v":1000.6,"label":"R2"}]},
 "mark": {"type": "text", "font": "Liberation Sans", "fontSize": 17, "color": "#111111", "align": "center", "baseline": "middle"},
 "encoding": {
  "x": {"field": "t", "type": "quantitative", "scale": {"domain": [-1,101], "range": [166,648.5], "nice": false, "zero": false}, "axis": null},
  "y": {"field": "v", "type": "quantitative", "scale": {"domain": [-20,1800], "range": [1013.5,537.5], "nice": false, "zero": false}, "axis": null},
  "text": {"field": "label"}}}
]
},
{
"layer": [
{"data": {"values": [{"rb":0},{"rb":1},{"rb":2},{"rb":3},{"rb":4}]},
 "mark": {"type": "rule", "color": "#333333", "strokeWidth": 1.6},
 "encoding": {
  "y": {"field": "rb", "type": "quantitative", "scale": {"domain": [0,1,2,3,4], "range": [594.3,627.7,661,693.3,726.7], "nice": false, "zero": false}, "axis": null},
  "x": {"datum": 0, "type": "quantitative", "scale": {"domain": [0,1,2,3], "range": [687.3,826.7,948.3,1070], "nice": false, "zero": false}, "axis": null},
  "x2": {"datum": 3}}},
{"data": {"values": [{"cb":0,"r0":0,"r1":4},{"cb":1,"r0":0,"r1":4},{"cb":2,"r0":0,"r1":4},{"cb":3,"r0":0,"r1":4}]},
 "mark": {"type": "rule", "color": "#333333", "strokeWidth": 1.6},
 "encoding": {
  "x": {"field": "cb", "type": "quantitative", "scale": {"domain": [0,1,2,3], "range": [687.3,826.7,948.3,1070], "nice": false, "zero": false}, "axis": null},
  "y": {"field": "r0", "type": "quantitative", "scale": {"domain": [0,1,2,3,4], "range": [594.3,627.7,661,693.3,726.7], "nice": false, "zero": false}, "axis": null},
  "y2": {"field": "r1"}}}
]
},
{
"data": {"values": [
{"r":0,"c":0,"text":"Side"},{"r":0,"c":1,"text":"R1"},{"r":0,"c":2,"text":"R2"},
{"r":1,"c":0,"text":"Left"},{"r":1,"c":1,"text":"10,2 ms"},{"r":1,"c":2,"text":"38,5 ms"},
{"r":2,"c":0,"text":"Right"},{"r":2,"c":1,"text":"9,8 ms"},{"r":2,"c":2,"text":"37,3 ms"},
{"r":3,"c":0,"text":"Diff."},{"r":3,"c":1,"text":"0,4 ms"},{"r":3,"c":2,"text":"1,2 ms"}
]},
"mark": {"type": "text", "font": "Liberation Serif", "fontSize": 23.8, "color": "#1e1e1e", "align": "center", "baseline": "middle"},
"encoding": {
 "x": {"field": "c", "type": "quantitative", "scale": {"domain": [0,1,2], "range": [757,887.5,1009.2], "nice": false, "zero": false}, "axis": null},
 "y": {"field": "r", "type": "quantitative", "scale": {"domain": [0,1,2,3], "range": [611,644.4,677.2,710], "nice": false, "zero": false}, "axis": null},
 "text": {"field": "text"}}
},
{
"data": {"values": [
{"line":1,"part":"fig","text":"Fig 2."},
{"line":1,"part":"body","text":"A. TSEPs after stimulation of  infraorbital and mental nerves."},
{"line":2,"part":"body","text":"V2 marks wave N13 pick after stimulation of  infraorbital nerve. V3 marks wave N13 pick after stimulation of  mental nerve."},
{"line":3,"part":"body","text":"Right side infraorbital TSEP showed slightly longer N13 wave latency ( normal range 9 – 15.4 ms, side diff. 2 ms), and"},
{"line":4,"part":"body","text":"together with right mental branch TSEP had smaller amplitude than the left side TSEPs. B. Electrophysiological responses"},
{"line":5,"part":"body","text":"after stimulation of  supraorbital nerves."},
{"line":6,"part":"body","text":"Blink reflex findings showed normal R1 and R2 latencies of  responses obtained from both ipsilateral orbicularis oculi"},
{"line":7,"part":"body","text":"muscles, and no responses over orbicularis oris muscles ( Normal values: R1 < 13 ms, diff. 1.2 ms; R2 < 41 ms, diff. 8.0 ms)."}
]},
"layer": [
{"transform": [{"filter": "datum.part === 'fig'"}],
 "mark": {"type": "text", "font": "DejaVu Serif", "fontSize": 19, "color": "#111111", "align": "left", "baseline": "middle"},
 "encoding": {
  "x": {"datum": 0, "type": "quantitative", "scale": {"domain": [0,1], "range": [48,1240], "nice": false, "zero": false}, "axis": null},
  "y": {"field": "line", "type": "quantitative", "scale": {"domain": [1,7], "range": [1064.5,1229], "nice": false, "zero": false}, "axis": null},
  "text": {"field": "text"}}},
{"transform": [{"filter": "datum.part === 'body' && datum.line === 1"}],
 "mark": {"type": "text", "font": "DejaVu Serif", "fontSize": 19, "fontStyle": "italic", "color": "#111111", "align": "left", "baseline": "middle", "dx": 60},
 "encoding": {
  "x": {"datum": 0, "type": "quantitative", "scale": {"domain": [0,1], "range": [48,1240], "nice": false, "zero": false}, "axis": null},
  "y": {"field": "line", "type": "quantitative", "scale": {"domain": [1,7], "range": [1064.5,1229], "nice": false, "zero": false}, "axis": null},
  "text": {"field": "text"}}},
{"transform": [{"filter": "datum.line > 1 && datum.line < 7"}],
 "mark": {"type": "text", "font": "DejaVu Serif", "fontSize": 19, "fontStyle": "italic", "color": "#111111", "align": "left", "baseline": "middle"},
 "encoding": {
  "x": {"datum": 0, "type": "quantitative", "scale": {"domain": [0,1], "range": [48,1240], "nice": false, "zero": false}, "axis": null},
  "y": {"field": "line", "type": "quantitative", "scale": {"domain": [1,7], "range": [1064.5,1229], "nice": false, "zero": false}, "axis": null},
  "text": {"field": "text"}}},
{"transform": [{"filter": "datum.line === 7"}],
 "mark": {"type": "text", "font": "DejaVu Serif", "fontSize": 18.6, "fontStyle": "italic", "color": "#111111", "align": "left", "baseline": "middle"},
 "encoding": {
  "x": {"datum": 0, "type": "quantitative", "scale": {"domain": [0,1], "range": [48,1240], "nice": false, "zero": false}, "axis": null},
  "y": {"field": "line", "type": "quantitative", "scale": {"domain": [1,7], "range": [1064.5,1229], "nice": false, "zero": false}, "axis": null},
  "text": {"field": "text"}}}
]
}
]
}
